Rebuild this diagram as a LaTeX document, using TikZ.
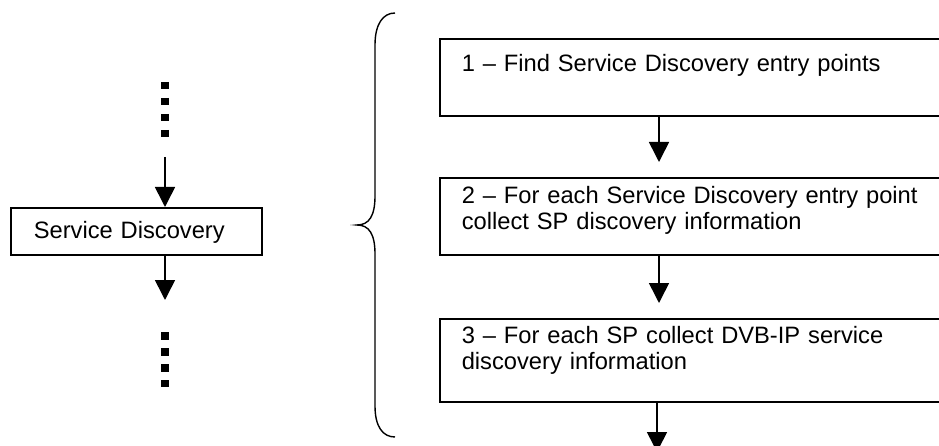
\documentclass[tikz,border=0pt]{standalone}
\usepackage{fontspec}
\setmainfont{Liberation Sans}
\usepackage{tikz}
\usetikzlibrary{calc,arrows.meta,positioning}
\tikzset{stepbox/.style={draw, line width=1.6pt, anchor=north west, inner xsep=22pt, inner ysep=0pt,
         text width=486pt, align=left, font=\fontsize{23.7}{26}\selectfont},
         dots/.style={line width=7.5pt, dash pattern=on 7.5pt off 8.5pt}}

\begin{document}
\begin{tikzpicture}[x=1pt, y=-1pt, >={Triangle[width=20pt,length=20pt]}, line width=1.6pt]
	\useasboundingbox (0,0) rectangle (939,446);
	\clip (0,0) rectangle (939,446);

	\node[stepbox, text width=205pt, inner xsep=23pt, text height=31pt, text depth=16pt] (sd) at (10,207) {Service Discovery};
	\coordinate (up) at (165,157);
	\coordinate (down) at (165,300);
	\draw[->] (up) -- (up |- sd.north);
	\draw[->] (down |- sd.south) -- (down);
	\draw[dots] (165,82) -- (165,137);
	\draw[dots] (165,332) -- (165,387);

	\draw[line width=1.4pt] (395,13) .. controls (383,13) and (375,24) .. (375,45) -- (375,196)
		.. controls (375,216) and (369,225) .. (357,225) .. controls (369,225) and (375,234) .. (375,254)
		-- (375,406) .. controls (375,427) and (383,437) .. (395,437);

	\node[stepbox, text height=33pt, text depth=44pt] (find) at (439,38) {1 -- Find Service Discovery entry points};
	\node[stepbox, text height=26pt, text depth=51pt] (each) at (439,177) {2 -- For each Service Discovery entry point\\collect SP discovery information};
	\node[stepbox, text height=25pt, text depth=58pt] (coll) at (439,318) {3 -- For each SP collect DVB-IP service\\discovery information};
	\coordinate (col) at (659,0);
	\coordinate (out) at (657,452);
	\draw[->, shorten >=15pt] (col |- find.south) -- (col |- each.north);
	\draw[->, shorten >=15pt] (col |- each.south) -- (col |- coll.north);
	\draw[->] (out |- coll.south) -- (out);
\end{tikzpicture}
\end{document}
